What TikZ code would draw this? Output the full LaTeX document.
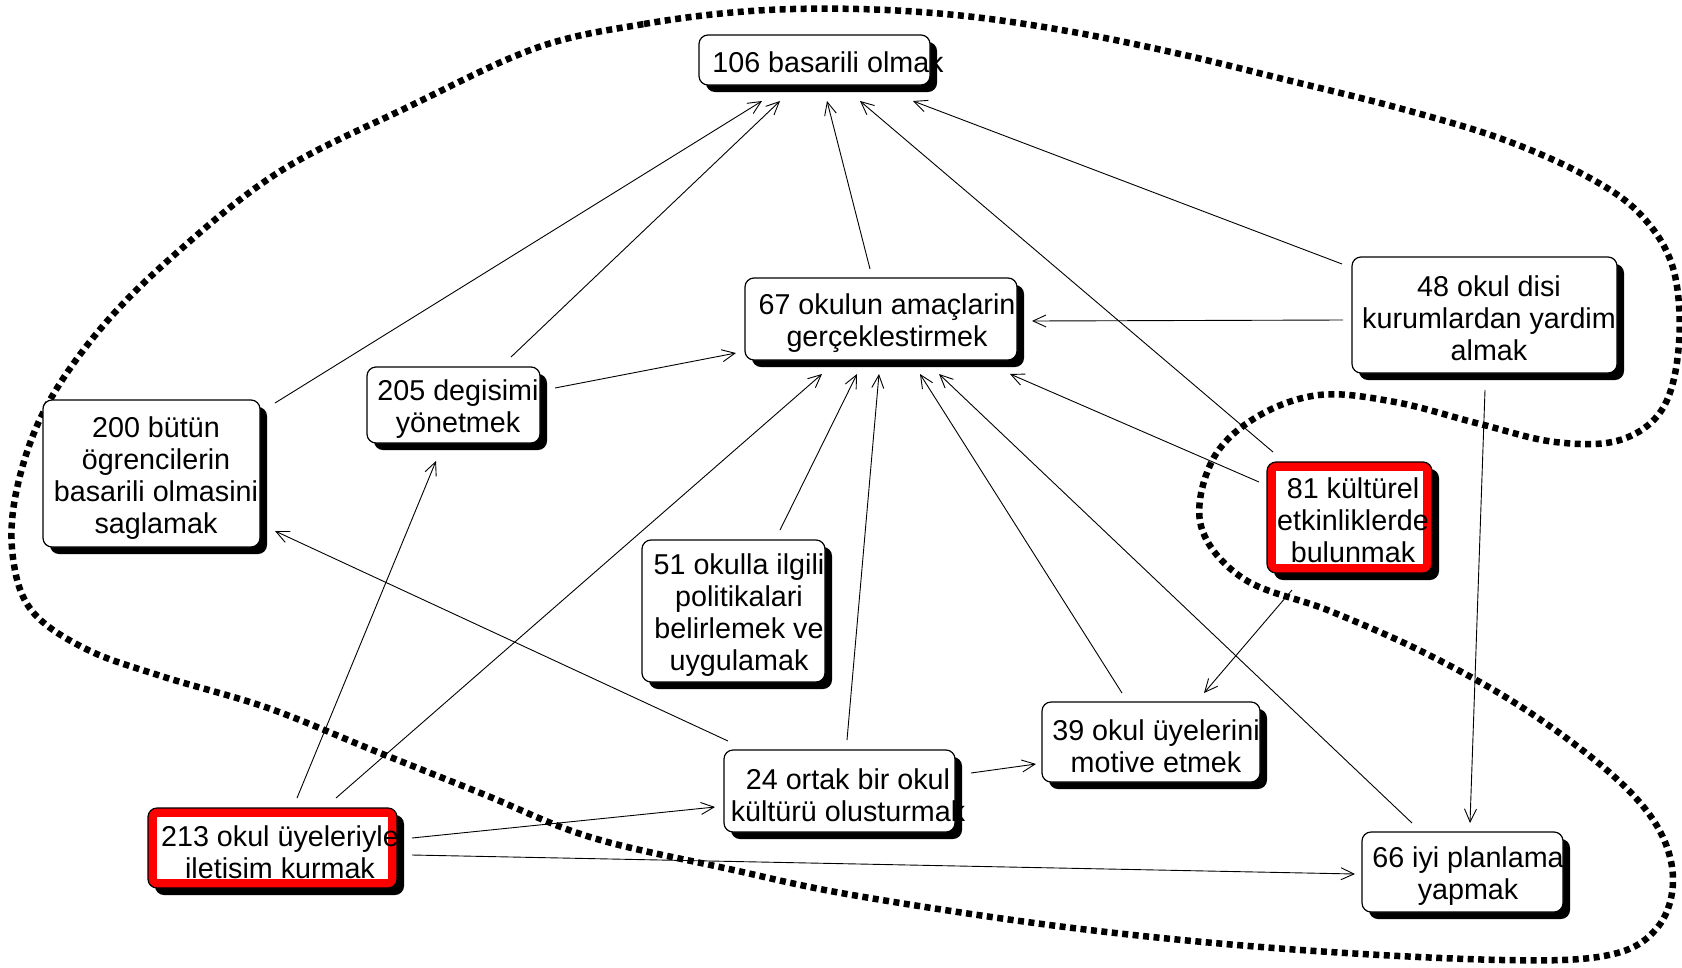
\documentclass[tikz,border=0pt]{standalone}
\usepackage{fontspec}
\setmainfont{Liberation Sans}
\usetikzlibrary{arrows.meta,shadows}

\tikzset{
  box/.style={draw=black, line width=1.2pt, fill=white, rounded corners=9pt,
    inner sep=0pt,
    drop shadow={shadow xshift=7pt, shadow yshift=-7pt, opacity=1, fill=black}},
  redbox/.style={box, fill=red},
  txt/.style={align=center, inner sep=0pt, font=\fontsize{28.7pt}{32pt}\selectfont},
  arr/.style={line width=0.9pt, -{Straight Barb[length=13pt,width=12pt,line width=0.9pt]}},
  dotline/.style={line width=6.5pt, dash pattern=on 6pt off 4.5pt}
}

\begin{document}
\begin{tikzpicture}[x=1pt,y=-1pt]
\useasboundingbox (0,0) rectangle (1682,967);

% cluster outline
\draw[dotline] plot[smooth cycle, tension=0.6] coordinates {
  (536,48) (644,24) (751,11) (858,9) (965,16) (1073,32) (1180,54) (1287,80)
  (1395,107) (1502,139) (1588,177) (1641,215) (1673,268) (1679,343) (1663,408)
  (1620,440) (1555,442) (1480,424) (1395,402) (1319,395) (1255,418) (1212,461)
  (1201,526) (1244,579) (1330,611) (1427,654) (1523,708) (1609,772) (1657,826)
  (1673,880) (1657,928) (1609,955) (1502,960) (1287,949) (1073,928) (858,896)
  (729,869) (590,837) (483,794) (375,751) (268,708) (161,676) (86,649) (32,611)
  (13,558) (16,493) (43,413) (97,333) (172,257) (279,172) (408,107)};

% boxes
\node[box, minimum width=231pt, minimum height=50pt] (n106) at (814.5,60) {};
\node[box, minimum width=272pt, minimum height=82pt] (n67) at (881,319) {};
\node[box, minimum width=265pt, minimum height=116pt] (n48) at (1484.5,315) {};
\node[box, minimum width=173pt, minimum height=76pt] (n205) at (453.5,405) {};
\node[box, minimum width=217pt, minimum height=147pt] (n200) at (151.5,473.5) {};
\node[redbox, minimum width=165pt, minimum height=111pt] (n81) at (1349.5,517.5) {};
\node[box, minimum width=183pt, minimum height=142pt] (n51) at (733.5,611) {};
\node[box, minimum width=218pt, minimum height=80pt] (n39) at (1151,742) {};
\node[box, minimum width=231pt, minimum height=82pt] (n24) at (839.5,791) {};
\node[redbox, minimum width=249pt, minimum height=80pt] (n213) at (272.5,848) {};
\node[box, minimum width=201pt, minimum height=80pt] (n66) at (1462.5,872) {};

% white panels inside the red frames
\fill[white] ([shift={(10,10)}]n81.north west) rectangle ([shift={(-10,-10)}]n81.south east);
\fill[white] ([shift={(10,10)}]n213.north west) rectangle ([shift={(-10,-10)}]n213.south east);

% labels
\node[txt] (t106) at ([shift={(13.5,2)}]n106.center) {106 basarili olmak};
\node[txt] (t67) at ([shift={(6,4)}]n67.center) {67 okulun amaçlarin\\gerçeklestirmek};
\node[txt] (t48) at ([shift={(4.5,3)}]n48.center) {48 okul disi\\kurumlardan yardim\\almak};
\node[txt] (t205) at ([shift={(4.5,4)}]n205.center) {205 degisimi\\yönetmek};
\node[txt] (t200) at ([shift={(4.5,4.5)}]n200.center) {200 bütün\\ögrencilerin\\basarili olmasini\\saglamak};
\node[txt] (t81) at ([shift={(3.5,3)}]n81.center) {81 kültürel\\etkinliklerde\\bulunmak};
\node[txt] (t51) at ([shift={(5.5,4)}]n51.center) {51 okulla ilgili\\politikalari\\belirlemek ve\\uygulamak};
\node[txt] (t39) at ([shift={(5,4)}]n39.center) {39 okul üyelerini\\motive etmek};
\node[txt] (t24) at ([shift={(8.5,4)}]n24.center) {24 ortak bir okul\\kültürü olusturmak};
\node[txt] (t213) at ([shift={(7.5,4)}]n213.center) {213 okul üyeleriyle\\iletisim kurmak};
\node[txt] (t66) at ([shift={(5.5,4)}]n66.center) {66 iyi planlama\\yapmak};

% connectors
\draw[arr] ([shift={(123.5,-70.5)}]n200.center) -- ([shift={(-52.5,41)}]n106.center);
\draw[arr] ([shift={(57.5,-48)}]n205.center) -- ([shift={(-34.5,41)}]n106.center);
\draw[arr] ([shift={(-11,-50)}]n67.center) -- ([shift={(12.5,41)}]n106.center);
\draw[arr] ([shift={(-76.5,-65.5)}]n81.center) -- ([shift={(45.5,41)}]n106.center);
\draw[arr] ([shift={(-142.5,-51)}]n48.center) -- ([shift={(98.5,41)}]n106.center);
\draw[arr] ([shift={(101.5,-17)}]n205.center) -- ([shift={(-145,34)}]n67.center);
\draw[arr] ([shift={(-141.5,5)}]n48.center) -- ([shift={(151,2)}]n67.center);
\draw[arr] ([shift={(-90.5,-35.5)}]n81.center) -- ([shift={(129,55)}]n67.center);
\draw[arr] ([shift={(46.5,-81)}]n51.center) -- ([shift={(-24,55)}]n67.center);
\draw[arr] ([shift={(63.5,-50)}]n213.center) -- ([shift={(-59,55)}]n67.center);
\draw[arr] ([shift={(7.5,-51)}]n24.center) -- ([shift={(-2,55)}]n67.center);
\draw[arr] ([shift={(-29,-49)}]n39.center) -- ([shift={(39,55)}]n67.center);
\draw[arr] ([shift={(-50.5,-49)}]n66.center) -- ([shift={(58,55)}]n67.center);
\draw[arr] ([shift={(-111.5,-50)}]n24.center) -- ([shift={(123.5,57.5)}]n200.center);
\draw[arr] ([shift={(24.5,-50)}]n213.center) -- ([shift={(-17.5,56)}]n205.center);
\draw[arr] ([shift={(139.5,-10)}]n213.center) -- ([shift={(-124.5,16)}]n24.center);
\draw[arr] ([shift={(139.5,7)}]n213.center) -- ([shift={(-107.5,2)}]n66.center);
\draw[arr] ([shift={(131.5,-18)}]n24.center) -- ([shift={(-115,22)}]n39.center);
\draw[arr] ([shift={(-57.5,72.5)}]n81.center) -- ([shift={(53,-49)}]n39.center);
\draw[arr] ([shift={(0.5,75)}]n48.center) -- ([shift={(7.5,-49)}]n66.center);
\end{tikzpicture}
\end{document}
